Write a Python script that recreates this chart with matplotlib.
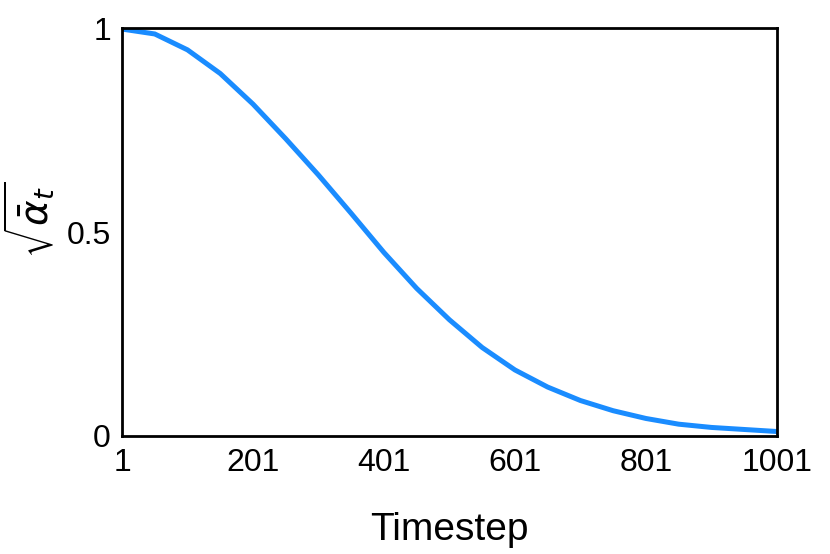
import matplotlib
matplotlib.use("Agg")
import matplotlib.pyplot as plt
import numpy as np

# values (every 50 steps)
timesteps = [1, 51, 101, 151, 201, 251, 301, 351, 401, 451, 501,
             551, 601, 651, 701, 751, 801, 851, 901, 951, 1001]
sqrt_alpha_bar = [0.998, 0.986, 0.947, 0.889, 0.814, 0.729, 0.640, 0.546,
                  0.450, 0.362, 0.285, 0.217, 0.162, 0.120, 0.087, 0.062,
                  0.043, 0.029, 0.021, 0.016, 0.011]
xticks = [1, 201, 401, 601, 801, 1001]
yticks = [0, 0.5, 1]
yticklabels = ["0", "0.5", "1"]

plt.rcParams['font.family'] = ['Liberation Sans', 'DejaVu Sans']
plt.rcParams['mathtext.fontset'] = 'dejavusans'

fig = plt.figure(figsize=(8.3, 5.54), dpi=100)
ax = fig.add_axes([0.147, 0.213, 0.789, 0.736])

ax.plot(timesteps, sqrt_alpha_bar, color="#1a8cff", linewidth=3.6,
        solid_joinstyle="miter")

ax.set_xlim(1, 1001)
ax.set_ylim(0, 1)
ax.set_xticks(xticks)
ax.set_xticklabels([str(t) for t in xticks])
ax.set_yticks(yticks)
ax.set_yticklabels(yticklabels)
ax.tick_params(length=0, labelsize=23)
ax.tick_params(axis="x", pad=9)
ax.tick_params(axis="y", pad=8)

for s in ax.spines.values():
    s.set_linewidth(2.0)

ax.set_xlabel("Timestep", fontsize=28, labelpad=24)
ax.set_ylabel(r"$\sqrt{\bar{\alpha}_t}$", fontsize=28)
ax.yaxis.set_label_coords(-0.1, 0.53)

fig.savefig("out.png", dpi=100)
